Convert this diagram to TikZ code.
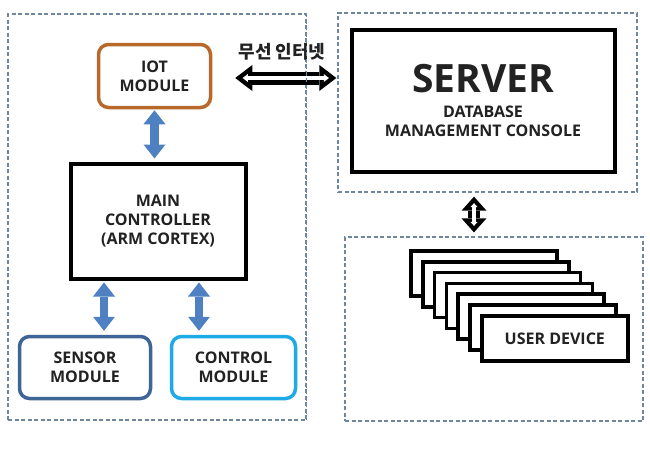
\documentclass[tikz,border=0pt]{standalone}
\usepackage{fontspec}
\setmainfont{Open Sans}
\newfontfamily\kr{Noto Sans CJK KR}
\usetikzlibrary{arrows.meta,calc}
\definecolor{frameblue}{HTML}{6F879E}
\definecolor{iotbrown}{HTML}{B8682A}
\definecolor{sensorblue}{HTML}{3F6596}
\definecolor{ctrlcyan}{HTML}{1EAAE6}
\definecolor{arrowblue}{HTML}{4F81C2}
\definecolor{txt}{HTML}{222222}
\newcommand{\lblfont}{\bfseries\fontsize{16}{19}\selectfont}
\begin{document}
\begin{tikzpicture}[x=1pt,y=-1pt,
  frame/.style={draw=frameblue, dash pattern=on 4pt off 2.5pt, line width=1.3pt, inner sep=0pt},
  modbox/.style={draw, rounded corners=10pt, line width=3.5pt, fill=white, align=center, font=\lblfont, text=txt, inner sep=0pt},
  sqbox/.style={draw=black, line width=4pt, fill=white, align=center, text=txt, inner sep=0pt},
  devbox/.style={draw=black, line width=3.5pt, fill=white, minimum width=146pt, minimum height=45pt, inner sep=0pt, font=\lblfont, text=txt},
  bluearrow/.style={draw=arrowblue, line width=8.5pt, arrows={Triangle[length=14pt,width=22pt,line width=0pt]-Triangle[length=14pt,width=22pt,line width=0pt]}},
  hollowout/.style={draw=black, line width=13pt, arrows={Triangle[length=17pt,width=26pt,line width=0pt]-Triangle[length=17pt,width=26pt,line width=0pt]}},
  hollowin/.style={draw=white, line width=4pt, arrows={Triangle[length=5.1pt,width=7.8pt,line width=0pt]-Triangle[length=5.1pt,width=7.8pt,line width=0pt]}},
  vhollowout/.style={draw=black, line width=12pt, arrows={Triangle[length=14pt,width=25pt,line width=0pt]-Triangle[length=14pt,width=25pt,line width=0pt]}},
  vhollowin/.style={draw=white, line width=4pt, arrows={Triangle[length=3.9pt,width=7pt,line width=0pt]-Triangle[length=3.9pt,width=7pt,line width=0pt]}}
]
\fill[white] (0,0) rectangle (650,448);
\path[use as bounding box] (0,0) rectangle (650,448);

% frames
\node[frame, minimum width=298pt, minimum height=406pt] (leftframe) at (157,217) {};
\node[frame, minimum width=299pt, minimum height=179pt] (serverframe) at (487.5,102.5) {};
\node[frame, minimum width=298pt, minimum height=184pt] (userframe) at (494,329) {};

% left modules
\node[modbox, draw=iotbrown, minimum width=112pt, minimum height=63pt] (iot) at (154.5,76) {IOT\\MODULE};
\node[sqbox, minimum width=175pt, minimum height=115pt, font=\lblfont] (main) at (158,221) {MAIN\\CONTROLLER\\(ARM CORTEX)};
\node[modbox, draw=sensorblue, minimum width=131pt, minimum height=62pt] (sensor) at (85,367.5) {SENSOR\\MODULE};
\node[modbox, draw=ctrlcyan, minimum width=124pt, minimum height=62pt] (control) at (233.5,367.5) {CONTROL\\MODULE};

% server
\node[sqbox, minimum width=263pt, minimum height=142pt, font=\lblfont] (server) at (483,100.5)
  {{\fontsize{39}{42}\selectfont\bfseries SERVER}\\[6pt]DATABASE\\MANAGEMENT CONSOLE};

% user devices
\foreach \i in {0,...,5} {
  \node[devbox] (dev\i) at ({484+11.8*\i},{273.5+10.8*\i}) {};
}
\node[devbox] (dev6) at ({484+11.8*6},{273.5+10.8*6}) {USER DEVICE};

% label
\node[font=\kr\bfseries\fontsize{18}{20}\selectfont, text=txt, inner sep=0pt] (wlabel) at (282,52) {무선 인터넷};

% helper coordinates
\coordinate (wy) at (0,78);
\coordinate (sx) at (104,0);
\coordinate (cx) at (199,0);
\coordinate (vx) at (474,0);

% blue arrows
\draw[bluearrow, shorten <=1pt, shorten >=3pt] (iot.south) -- (main.north -| iot.south);
\draw[bluearrow, shorten <=2pt, shorten >=4pt] (main.south -| sx) -- (sensor.north -| sx);
\draw[bluearrow, shorten <=2pt, shorten >=4pt] (main.south -| cx) -- (control.north -| cx);

% hollow arrows
\draw[hollowout, shorten <=23pt, shorten >=1pt] (iot.east |- wy) -- (serverframe.west |- wy);
\draw[hollowin, shorten <=30.4pt, shorten >=8.4pt] (iot.east |- wy) -- (serverframe.west |- wy);
\draw[vhollowout, shorten <=4pt, shorten >=4pt] (serverframe.south -| vx) -- (userframe.north -| vx);
\draw[vhollowin, shorten <=10.5pt, shorten >=10.5pt] (serverframe.south -| vx) -- (userframe.north -| vx);

% redraw left frame edge over the arrow
\draw[draw=frameblue, dash pattern=on 4pt off 2.5pt, line width=1.3pt] (leftframe.north east) -- (leftframe.south east);
\end{tikzpicture}
\end{document}
